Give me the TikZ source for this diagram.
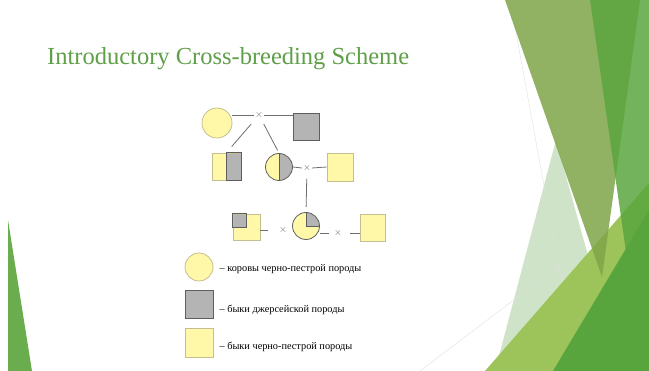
\documentclass[tikz,border=0pt]{standalone}
\usepackage{fontspec}
\setmainfont{Liberation Serif}
\usepackage{xcolor}
\usetikzlibrary{positioning}
\definecolor{cowyellow}{HTML}{FFF8A8}
\definecolor{jerseygray}{HTML}{B4B4B4}
\definecolor{titlegreen}{HTML}{5E9F48}
\definecolor{linkgray}{HTML}{6E6E6E}
\definecolor{yellowedge}{HTML}{C4BF90}
\definecolor{darkedge}{HTML}{5E5E5E}
\definecolor{leafolive}{HTML}{7FA548}
\definecolor{leafgreen}{HTML}{5AA63E}
\definecolor{leafdeep}{HTML}{58A43D}
\definecolor{leaflime}{HTML}{9DC45A}
\definecolor{leafpale}{HTML}{CFE3C8}
\definecolor{leafleft}{HTML}{6AAD4F}

\begin{document}
\begin{tikzpicture}[x=1pt,y=-1pt,
  cow/.style={circle,draw=yellowedge,fill=cowyellow,line width=0.8pt,inner sep=0pt,minimum size=#1},
  jersey/.style={rectangle,draw=darkedge,fill=jerseygray,line width=0.8pt,inner sep=0pt},
  blackpied/.style={rectangle,draw=yellowedge,fill=cowyellow,line width=0.8pt,inner sep=0pt},
  halfcow/.style={cow=#1,draw=darkedge,path picture={\fill[jerseygray] (path picture bounding box.south) rectangle (path picture bounding box.north east);}},
  quartercow/.style={cow=#1,draw=darkedge,path picture={\fill[jerseygray] (path picture bounding box.center) rectangle (path picture bounding box.north east);}},
  halfbull/.style={blackpied,path picture={\fill[jerseygray] (path picture bounding box.south) rectangle (path picture bounding box.north east);}},
  quarterbull/.style={blackpied,path picture={\fill[jerseygray] (path picture bounding box.center) rectangle (path picture bounding box.north west);}},
  cross/.style={inner sep=1pt,text=darkedge,font=\normalsize},
  link/.style={draw=linkgray,line width=0.8pt},
  legtext/.style={font=\fontsize{10.3}{12}\selectfont,anchor=west,inner sep=0pt}]
\useasboundingbox (0,0) rectangle (649,371);
%
\fill[leafleft] (8,220) -- (8,371) -- (32,371) -- cycle;
\fill[leafpale] (556,140) -- (495,371) -- (620,371) -- cycle;
\draw[black!12,line width=0.4pt] (420,371) -- (560,265);
\draw[black!12,line width=0.4pt] (510,0) -- (565,300);
\fill[leaflime] (485,371) -- (649,183) -- (649,371) -- cycle;
\fill[leafolive,fill opacity=0.85] (505,0) -- (640,0) -- (602,277) -- cycle;
\fill[leafgreen,fill opacity=0.85] (590,0) -- (649,0) -- (649,371) -- (643,371) -- cycle;
\fill[leafdeep] (553,371) -- (649,210) -- (649,371) -- cycle;
%
\node[anchor=base west,text=titlegreen,font=\fontsize{24.5}{28}\selectfont,inner sep=0pt] (title) at (47,65) {Introductory Cross-breeding Scheme};
%
\node[cow=30pt] (c1) at (217,123) {};
\node[jersey,minimum width=26pt,minimum height=27pt] (b1) at (306,126.5) {};
\node[cross] (x1) at (259,115) {$\times$};
\draw[link] (c1.east |- x1) -- (x1.west);
\draw[link] (x1.east) -- (b1.west |- x1);
%
\node[halfbull,minimum width=29pt,minimum height=27pt] (h1) at (226.5,166.5) {};
\draw[darkedge,line width=0.8pt] (h1.north) rectangle (h1.south east);
\node[halfcow=27pt] (c2) at (279,167) {};
\draw[darkedge,line width=0.8pt] (c2.north) -- (c2.south);
\node[cross] (x2) at (307,168) {$\times$};
\node[blackpied,minimum width=26pt,minimum height=28pt] (q2) at (340,167) {};
\draw[link,shorten <=6pt,shorten >=8pt] (x1) -- (h1.north);
\draw[link,shorten <=5pt,shorten >=3pt] (x1) -- (c2.north);
\draw[link] (c2.east) -- (x2.west);
\draw[link] (x2.east) -- (q2.west);
%
\node[quarterbull,minimum width=27pt,minimum height=26pt] (q3) at (246.5,227) {};
\draw[darkedge,line width=0.8pt] (q3.north) rectangle (q3.west);
\node[cross] (x3) at (283,230) {$\times$};
\node[quartercow=27pt] (c3) at (306,226) {};
\draw[darkedge,line width=0.8pt] (c3.north) -- (c3.center) -- (c3.east);
\node[cross] (x4) at (338,233) {$\times$};
\node[blackpied,minimum width=25pt,minimum height=27pt] (q4) at (372.5,227.5) {};
\draw[link,shorten <=6pt,shorten >=5pt] (x2) -- (c3.north);
\draw[link,shorten >=10pt] (q3.east |- x3) -- (x3.west);
\draw[link,shorten >=4pt] (c3.east |- x4) -- (x4.west);
\draw[link,shorten <=7pt] (x4.east) -- (q4.west |- x4);
%
\node[cow=28pt] (l1) at (199,267) {};
\node[jersey,minimum size=28pt] (l2) at (199,304) {};
\node[blackpied,minimum width=28pt,minimum height=29pt] (l3) at (199,342.5) {};
\node[legtext,right=6pt of l1,yshift=-2pt] (t1) {– коровы черно-пестрой породы};
\node[legtext,right=6pt of l2,yshift=-6pt] (t2) {– быки джерсейской породы};
\node[legtext,right=6pt of l3,yshift=-4.5pt] (t3) {– быки черно-пестрой породы};
\end{tikzpicture}
\end{document}
